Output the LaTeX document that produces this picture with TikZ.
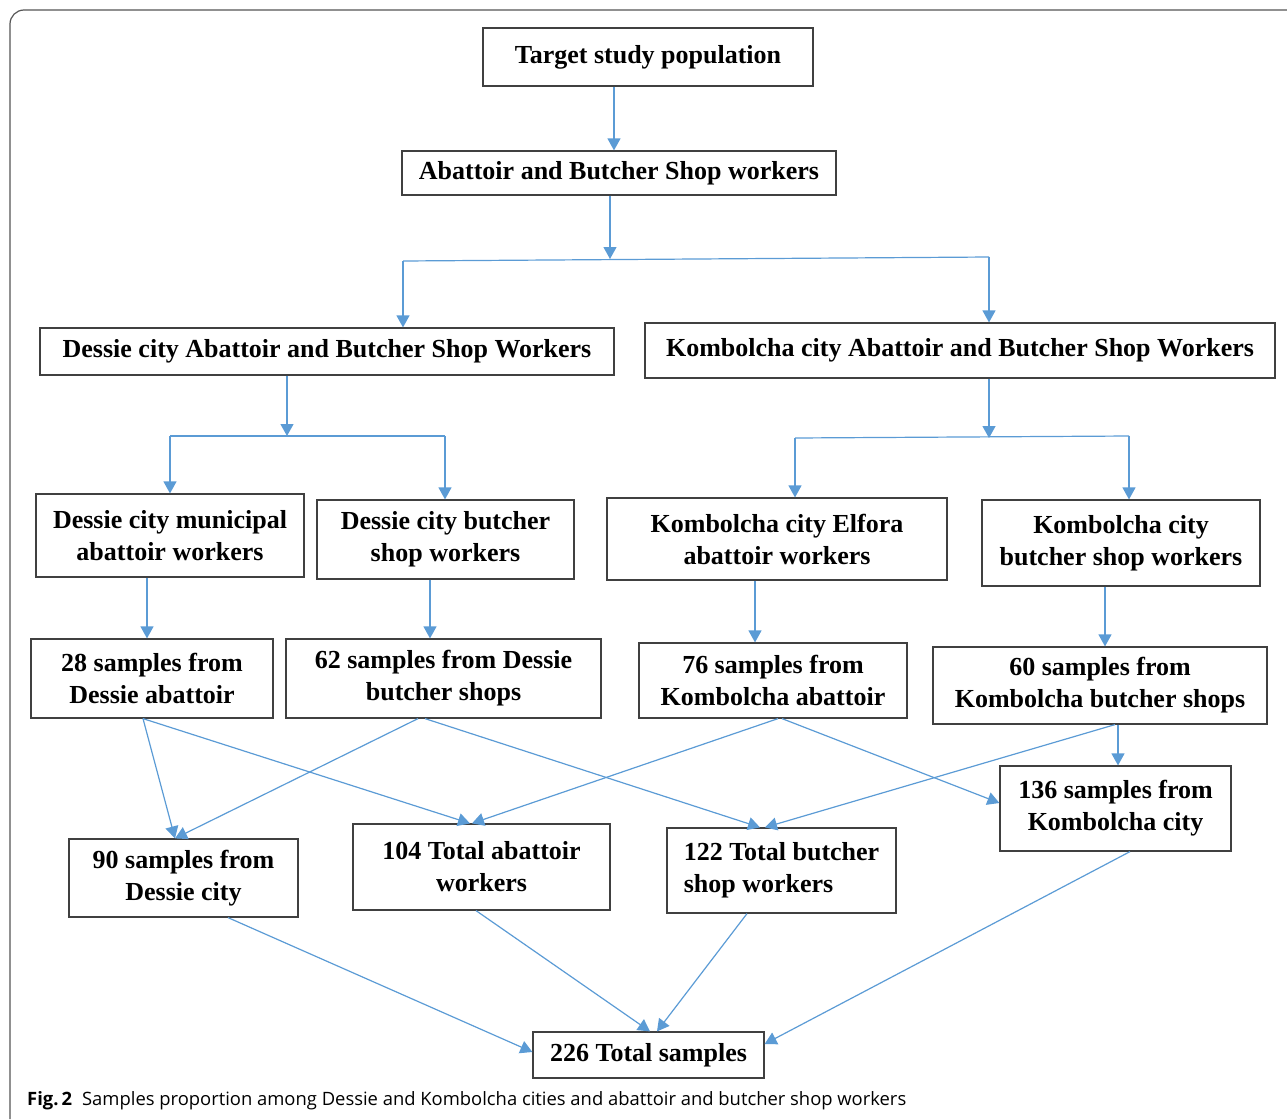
\documentclass[tikz,border=0pt]{standalone}
\usepackage{fontspec}
\setmainfont{Liberation Serif}
\newfontfamily\capfont{Open Sans}
\usetikzlibrary{arrows.meta}
\definecolor{linkblue}{HTML}{5B9BD5}
\definecolor{boxgray}{HTML}{404040}
\definecolor{framegray}{HTML}{555555}
\tikzset{
  box/.style={draw=boxgray,line width=1.2pt,align=center,inner sep=0pt,
    font=\bfseries\fontsize{26}{32}\selectfont},
  link/.style={draw=linkblue,line width=1.2pt},
  arr/.style={link,-{Triangle[width=13pt,length=12pt]}}
}
\begin{document}
\begin{tikzpicture}[x=1pt,y=-1pt]
\useasboundingbox (0,0) rectangle (1287,1119);
\draw[framegray,line width=1.2pt,rounded corners=14pt] (1287,10) -- (10,10) -- (10,1119);

\node[box,minimum width=330,minimum height=58] (tsp) at (648,57) {Target study population};
\node[box,minimum width=434,minimum height=44] (abw) at (619,173) {Abattoir and Butcher Shop workers};
\node[box,minimum width=574,minimum height=47] (dc) at (327,351.5) {Dessie city Abattoir and Butcher Shop Workers};
\node[box,minimum width=630,minimum height=55] (kc) at (960,350.5) {Kombolcha city Abattoir and Butcher Shop Workers};
\node[box,minimum width=268,minimum height=83] (dma) at (170,535.5) {Dessie city municipal\\abattoir workers};
\node[box,minimum width=257,minimum height=79] (dbs) at (445.5,539.5) {Dessie city butcher\\shop workers};
\node[box,minimum width=340,minimum height=82] (kea) at (777,539) {Kombolcha city Elfora\\abattoir workers};
\node[box,minimum width=278,minimum height=86] (kbs) at (1121,543) {Kombolcha city\\butcher shop workers};
\node[box,minimum width=242,minimum height=79] (s28) at (152,678.5) {28 samples from\\Dessie abattoir};
\node[box,minimum width=315,minimum height=79] (s62) at (443.5,678.5) {62 samples from Dessie\\butcher shops};
\node[box,minimum width=268,minimum height=75] (s76) at (773,680.5) {76 samples from\\Kombolcha abattoir};
\node[box,minimum width=334,minimum height=77] (s60) at (1100,685.5) {60 samples from\\Kombolcha butcher shops};
\node[box,minimum width=231,minimum height=85] (s136) at (1115.5,808.5) {136 samples from\\Kombolcha city};
\node[box,minimum width=229,minimum height=78] (s90) at (183.5,878) {90 samples from\\Dessie city};
\node[box,minimum width=257,minimum height=86] (t104) at (481.5,867) {104 Total abattoir\\workers};
\node[box,minimum width=229,minimum height=85,align=left] (t122) at (781.5,870.5) {122 Total butcher\\shop workers};
\node[box,minimum width=231,minimum height=46] (t226) at (648.5,1055) {226 Total samples};

\coordinate (j1m) at (610,259);
\coordinate (j1l) at (403,261);
\coordinate (j1r) at (989,257);
\coordinate (j2m) at (287,436);
\coordinate (j2l) at (170,436);
\coordinate (j2r) at (445,436);
\coordinate (j3m) at (989,438);
\coordinate (j3l) at (795,438);
\coordinate (j3r) at (1129,436);

\draw[arr] ([xshift=-34pt]tsp.south) -- ([xshift=-5pt]abw.north);
\draw[arr] ([xshift=-9pt]abw.south) -- (j1m);
\draw[link] (j1l) -- (j1r);
\draw[arr] (j1l) -- (j1l |- dc.north);
\draw[arr] (j1r) -- (j1r |- kc.north);
\draw[arr] (dc.south -| j2m) -- (j2m);
\draw[link] (j2l) -- (j2r);
\draw[arr] (j2l) -- (j2l |- dma.north);
\draw[arr] (j2r) -- (j2r |- dbs.north);
\draw[arr] (kc.south -| j3m) -- (j3m);
\draw[link] (j3l) -- (j3r);
\draw[arr] (j3l) -- (j3l |- kea.north);
\draw[arr] (j3r) -- (j3r |- kbs.north);
\draw[arr] ([xshift=-23pt]dma.south) -- ([xshift=-5pt]s28.north);
\draw[arr] ([xshift=-15.5pt]dbs.south) -- ([xshift=-13.5pt]s62.north);
\draw[arr] ([xshift=-22pt]kea.south) -- ([xshift=-18pt]s76.north);
\draw[arr] ([xshift=-16pt]kbs.south) -- ([xshift=5pt]s60.north);
\draw[arr] ([xshift=-9pt]s28.south) -- ([xshift=-8.5pt]s90.north);
\draw[arr] ([xshift=-9pt]s28.south) -- ([xshift=-11.5pt]t104.north);
\draw[arr] ([xshift=-25.5pt]s62.south) -- ([xshift=-8.5pt]s90.north);
\draw[arr] ([xshift=-18.5pt]s62.south) -- ([xshift=-21.5pt]t122.north);
\draw[arr] ([xshift=5pt]s76.south) -- ([xshift=-9.5pt]t104.north);
\draw[arr] ([xshift=9pt]s76.south) -- ([yshift=5.5pt]s136.west);
\draw[arr] ([xshift=15pt]s60.south) -- ([xshift=-16.5pt]t122.north);
\draw[arr] ([xshift=18pt]s60.south) -- ([xshift=2.5pt]s136.north);
\draw[arr] ([xshift=44.5pt]s90.south) -- ([yshift=3pt]t226.west);
\draw[arr] ([xshift=-5.5pt]t104.south) -- ([xshift=1.5pt]t226.north);
\draw[arr] ([xshift=-34.5pt]t122.south) -- ([xshift=8.5pt]t226.north);
\draw[arr] ([xshift=14.5pt]s136.south) -- ([yshift=11pt]t226.east);

\node[anchor=west,inner sep=0pt,font=\capfont\fontsize{18.4}{22}\selectfont] (cap) at (27,1101)
  {\textbf{Fig.\,2}\hspace{10pt}Samples proportion among Dessie and Kombolcha cities and abattoir and butcher shop workers};
\end{tikzpicture}
\end{document}
